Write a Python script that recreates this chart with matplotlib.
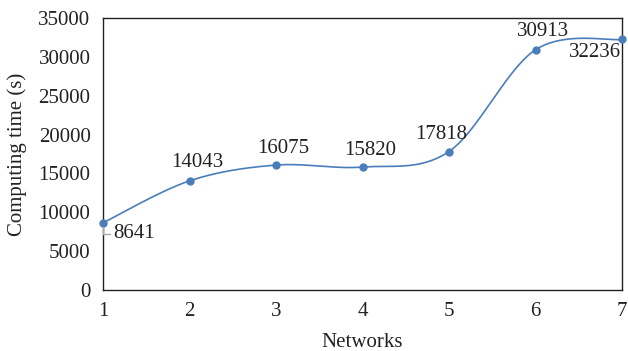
import numpy as np
import matplotlib.pyplot as plt

plt.rcParams['font.family'] = ['Liberation Serif', 'DejaVu Serif']

# data
networks = [1, 2, 3, 4, 5, 6, 7]
times = [8641, 14043, 16075, 15820, 17818, 30913, 32236]
# label offsets in pixels (dx, dy) relative to each marker
label_offsets = [(31, -11), (8, 18), (7, 17), (8, 17), (-8, 17), (7, 18), (-27, -13)]

line_color = '#4a7ebb'
text_color = '#222222'
fs = 15


def smooth(xs, ys, n=40):
    # Catmull-Rom style smoothing, similar to the spreadsheet "smoothed line"
    xs = np.asarray(xs, float)
    ys = np.asarray(ys, float)
    px = np.concatenate([[xs[0]], xs, [xs[-1]]])
    py = np.concatenate([[ys[0]], ys, [ys[-1]]])
    out_x, out_y = [], []
    t = np.linspace(0, 1, n)
    for i in range(1, len(px) - 2):
        p0x, p1x, p2x, p3x = px[i - 1], px[i], px[i + 1], px[i + 2]
        p0y, p1y, p2y, p3y = py[i - 1], py[i], py[i + 1], py[i + 2]
        c1x = p1x + (p2x - p0x) / 6
        c1y = p1y + (p2y - p0y) / 6
        c2x = p2x - (p3x - p1x) / 6
        c2y = p2y - (p3y - p1y) / 6
        bx = (1 - t) ** 3 * p1x + 3 * (1 - t) ** 2 * t * c1x + 3 * (1 - t) * t ** 2 * c2x + t ** 3 * p2x
        by = (1 - t) ** 3 * p1y + 3 * (1 - t) ** 2 * t * c1y + 3 * (1 - t) * t ** 2 * c2y + t ** 3 * p2y
        out_x.extend(bx)
        out_y.extend(by)
    return out_x, out_y


fig = plt.figure(figsize=(6.28, 3.51), dpi=100)
ax = fig.add_axes([103 / 628, 1 - 290 / 351, 519 / 628, 272 / 351])

sx, sy = smooth(networks, times)
ax.plot(sx, sy, color=line_color, lw=1.2, clip_on=False)
ax.plot(networks, times, 'o', color=line_color, ms=5, clip_on=False, zorder=3)

for i, (x, y) in enumerate(zip(networks, times)):
    dx, dy = label_offsets[i]
    if i == 0:
        ax.annotate(str(y), xy=(x, y), xytext=(dx, dy), textcoords='offset pixels',
                    ha='center', va='center', fontsize=fs, color=text_color, zorder=5,
                    arrowprops=dict(arrowstyle='-', color='#aaaaaa', lw=1.0,
                                    connectionstyle='angle,angleA=0,angleB=90,rad=0',
                                    shrinkA=18, shrinkB=3))
    else:
        ax.annotate(str(y), xy=(x, y), xytext=(dx, dy), textcoords='offset pixels',
                    ha='center', va='center', fontsize=fs, color=text_color)

ax.set_xlim(1, 7)
ax.set_ylim(0, 35000)
ax.set_xticks(networks)
ax.set_yticks(np.arange(0, 35001, 5000))
ax.tick_params(length=0, labelsize=fs, colors=text_color, pad=9)
for s in ax.spines.values():
    s.set_linewidth(1.0)
    s.set_color(text_color)

ax.set_xlabel('Networks', fontsize=fs, color=text_color, labelpad=8)
ax.set_ylabel('Computing time (s)', fontsize=fs, color=text_color, labelpad=8)

fig.savefig('out.png', dpi=100)
